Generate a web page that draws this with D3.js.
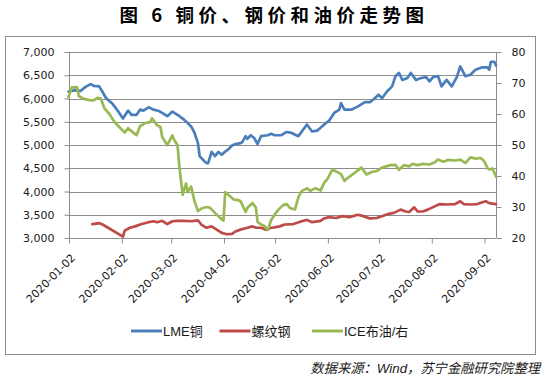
<!DOCTYPE html>
<html>
<head>
<meta charset="utf-8">
<script src="https://cdn.jsdelivr.net/npm/d3@7"></script>
<style>
  body { margin: 0; background: #fff; }
  svg { display: block; }
</style>
</head>
<body>
<div id="chart"></div>
<script>
// LME铜 (left axis)
const copperDates = ["2020-01-02","2020-01-06","2020-01-09","2020-01-12","2020-01-15","2020-01-17","2020-01-20","2020-01-22","2020-01-24","2020-01-28","2020-01-31",
  "2020-02-03","2020-02-06","2020-02-08","2020-02-11","2020-02-13","2020-02-15","2020-02-18","2020-02-21","2020-02-24","2020-02-26","2020-02-29",
  "2020-03-03","2020-03-06","2020-03-10","2020-03-12","2020-03-14","2020-03-16","2020-03-18","2020-03-19","2020-03-21","2020-03-23","2020-03-24","2020-03-26","2020-03-28","2020-03-30",
  "2020-04-01","2020-04-03","2020-04-05","2020-04-07","2020-04-09","2020-04-12","2020-04-13","2020-04-15","2020-04-16","2020-04-18","2020-04-20","2020-04-22","2020-04-24","2020-04-28","2020-04-30",
  "2020-05-02","2020-05-06","2020-05-09","2020-05-12","2020-05-16","2020-05-21","2020-05-24","2020-05-27","2020-05-29",
  "2020-06-01","2020-06-03","2020-06-06","2020-06-09","2020-06-10","2020-06-12","2020-06-16","2020-06-20","2020-06-24","2020-06-27","2020-06-30",
  "2020-07-02","2020-07-03","2020-07-04","2020-07-07","2020-07-10","2020-07-12","2020-07-14","2020-07-16","2020-07-19","2020-07-21","2020-07-24","2020-07-27","2020-07-30",
  "2020-08-01","2020-08-03","2020-08-06","2020-08-08","2020-08-11","2020-08-14","2020-08-17","2020-08-19","2020-08-22","2020-08-25","2020-08-28",
  "2020-09-01","2020-09-04","2020-09-05","2020-09-06","2020-09-08","2020-09-09"];
const copperValues = [6150,6180,6160,6250,6310,6270,6260,6140,6010,5880,5730,
  5570,5740,5650,5650,5760,5740,5810,5760,5730,5690,5620,
  5720,5650,5540,5470,5400,5260,5040,4760,4680,4610,4610,4850,4760,4850,
  4790,4860,4910,4990,5020,5040,5060,5190,5130,5210,5150,5020,5190,5210,5240,
  5210,5210,5280,5260,5190,5440,5290,5310,5370,
  5470,5520,5690,5760,5900,5760,5760,5830,5920,5920,6010,
  6080,6050,6000,6150,6260,6480,6550,6400,6440,6550,6400,6440,6460,
  6370,6460,6480,6260,6400,6260,6460,6690,6480,6510,6620,
  6670,6670,6620,6790,6790,6710];

// 螺纹钢 (left axis)
const rebarDates = ["2020-01-16","2020-01-20","2020-01-22",
  "2020-02-03","2020-02-04","2020-02-07","2020-02-10","2020-02-14","2020-02-18","2020-02-21","2020-02-23","2020-02-26","2020-02-29",
  "2020-03-03","2020-03-06","2020-03-10","2020-03-14","2020-03-18","2020-03-20","2020-03-23","2020-03-26","2020-03-29",
  "2020-04-01","2020-04-04","2020-04-07","2020-04-09","2020-04-12","2020-04-16","2020-04-19","2020-04-21","2020-04-24","2020-04-27","2020-04-30",
  "2020-05-02","2020-05-05","2020-05-08","2020-05-13","2020-05-18","2020-05-21","2020-05-24","2020-05-29","2020-05-31",
  "2020-06-03","2020-06-07","2020-06-11","2020-06-15","2020-06-20","2020-06-23","2020-06-27",
  "2020-07-01","2020-07-04","2020-07-08","2020-07-11","2020-07-15","2020-07-18","2020-07-20","2020-07-23","2020-07-25","2020-07-28","2020-07-31",
  "2020-08-04","2020-08-07","2020-08-11","2020-08-16","2020-08-19","2020-08-21","2020-08-25","2020-08-29",
  "2020-09-01","2020-09-03","2020-09-05","2020-09-09"];
const rebarValues = [3300,3320,3290,
  3030,3160,3220,3250,3300,3340,3360,3340,3370,3300,
  3360,3370,3370,3360,3380,3290,3220,3250,3180,
  3110,3080,3090,3140,3180,3220,3250,3220,3220,3180,3220,
  3230,3250,3290,3300,3360,3390,3340,3370,3420,
  3450,3430,3470,3450,3500,3470,3420,
  3430,3470,3520,3540,3610,3570,3560,3660,3570,3570,3610,
  3680,3730,3720,3730,3790,3730,3720,3730,
  3770,3790,3750,3730];

// ICE布油 (right axis)
const oilDates = ["2020-01-02","2020-01-04","2020-01-07","2020-01-08","2020-01-11","2020-01-15","2020-01-17","2020-01-19","2020-01-21","2020-01-23","2020-01-26","2020-01-29",
  "2020-02-04","2020-02-06","2020-02-09","2020-02-11","2020-02-13","2020-02-16","2020-02-19","2020-02-20","2020-02-23","2020-02-25","2020-02-26","2020-02-29",
  "2020-03-03","2020-03-04","2020-03-06","2020-03-07","2020-03-09","2020-03-11","2020-03-12","2020-03-14","2020-03-16","2020-03-18","2020-03-20","2020-03-23","2020-03-25","2020-03-28","2020-03-31",
  "2020-04-02","2020-04-03","2020-04-06","2020-04-08","2020-04-10","2020-04-12","2020-04-15","2020-04-16","2020-04-19","2020-04-21","2020-04-22","2020-04-24","2020-04-26","2020-04-28","2020-04-30",
  "2020-05-02","2020-05-04","2020-05-07","2020-05-09","2020-05-11","2020-05-14","2020-05-16","2020-05-18","2020-05-21","2020-05-23","2020-05-26","2020-05-29","2020-05-31",
  "2020-06-02","2020-06-05","2020-06-07","2020-06-10","2020-06-12","2020-06-14","2020-06-18","2020-06-22","2020-06-25","2020-06-28",
  "2020-07-01","2020-07-04","2020-07-09","2020-07-12","2020-07-14","2020-07-17","2020-07-20","2020-07-22","2020-07-25","2020-07-28",
  "2020-08-01","2020-08-04","2020-08-06","2020-08-09","2020-08-12","2020-08-16","2020-08-19","2020-08-22","2020-08-25","2020-08-28","2020-08-31",
  "2020-09-02","2020-09-04","2020-09-05","2020-09-07","2020-09-09"];
const oilValues = [65.6,68.6,68.7,65.8,64.9,64.4,64.5,65.2,65.0,61.9,60.0,57.4,
  54.0,55.4,54.0,53.2,56.1,57.1,57.4,58.6,56.4,55.8,52.6,50.0,
  53.1,51.7,49.9,43.6,33.9,37.6,34.8,36.6,31.8,28.7,29.5,30.0,29.8,28.1,26.5,
  25.6,34.8,33.4,32.4,32.3,31.9,28.4,29.7,31.3,29.8,25.2,24.4,23.9,22.6,25.8,
  27.5,29.0,30.6,31.0,29.7,29.2,33.2,35.2,36.0,35.2,36.1,35.3,37.7,
  39.0,42.1,41.5,40.6,38.4,39.4,41.0,42.7,40.5,41.3,
  41.6,42.7,43.5,43.6,42.0,43.5,43.1,43.9,43.5,43.9,
  43.7,44.4,45.3,44.6,45.2,45.0,45.3,44.2,46.0,45.6,45.8,
  44.8,42.6,42.1,42.4,39.8];

const xTickDates = ["2020-01-02","2020-02-02","2020-03-02","2020-04-02","2020-05-02","2020-06-02","2020-07-02","2020-08-02","2020-09-02"];
const leftTicks = [3000,3500,4000,4500,5000,5500,6000,6500,7000];
const rightTicks = [20,30,40,50,60,70,80];
const seriesNames = ["LME铜","螺纹钢","ICE布油/右"];

const title = "图 6 铜价、钢价和油价走势图";
const source = "数据来源：Wind，苏宁金融研究院整理";

const colors = ["#4a7ebb", "#be4b48", "#98b954"];
const gridColor = "#8c8c8c";

const width = 544, height = 379;
const plot = {left: 68.5, right: 496, top: 52, bottom: 238};

const parse = d3.timeParse("%Y-%m-%d");

const svg = d3.select("#chart").append("svg")
  .attr("width", width)
  .attr("height", height);

svg.append("rect")
  .attr("width", width).attr("height", height)
  .attr("fill", "#fff");

// title
svg.append("text")
  .attr("x", 274)
  .attr("y", 21.5)
  .attr("text-anchor", "middle")
  .style("font-family", "'Noto Sans CJK SC'")
  .style("font-weight", "bold")
  .style("font-size", "18.5px")
  .style("letter-spacing", "4.5px")
  .attr("fill", "#000")
  .text(title);

// chart frame
svg.append("rect")
  .attr("x", 5.5).attr("y", 36.5)
  .attr("width", 530).attr("height", 318)
  .attr("fill", "none")
  .attr("stroke", gridColor)
  .attr("stroke-width", 1);

// scales
const x = d3.scaleTime()
  .domain([parse("2020-01-02"), parse("2020-09-09")])
  .range([plot.left, plot.right]);
const yL = d3.scaleLinear().domain([3000, 7000]).range([plot.bottom, plot.top]);
const yR = d3.scaleLinear().domain([20, 80]).range([plot.bottom, plot.top]);

const crisp = v => Math.round(v) + 0.5;

// gridlines
svg.append("g").selectAll("line")
  .data(leftTicks)
  .enter().append("line")
  .attr("x1", plot.left).attr("x2", plot.right)
  .attr("y1", d => crisp(yL(d))).attr("y2", d => crisp(yL(d)))
  .attr("stroke", gridColor)
  .attr("stroke-width", 1);

function styleAxis(g) {
  g.selectAll("path, line").attr("stroke", gridColor).attr("stroke-width", 1);
  g.selectAll("text")
    .attr("fill", "#1a1a1a")
    .style("font-family", "'DejaVu Sans'")
    .style("font-size", "11px");
}

// left axis
svg.append("g")
  .attr("transform", "translate(" + crisp(plot.left) + ",0)")
  .call(d3.axisLeft(yL).tickValues(leftTicks).tickFormat(d3.format(",")).tickSize(5).tickSizeOuter(0).tickPadding(10))
  .call(styleAxis)
  .call(g => g.select(".domain").remove());

svg.append("line")
  .attr("x1", crisp(plot.left)).attr("x2", crisp(plot.left))
  .attr("y1", plot.top).attr("y2", plot.bottom)
  .attr("stroke", gridColor);

// right axis
svg.append("g")
  .attr("transform", "translate(" + crisp(plot.right) + ",0)")
  .call(d3.axisRight(yR).tickValues(rightTicks).tickSize(5).tickSizeOuter(0).tickPadding(10))
  .call(styleAxis)
  .call(g => g.select(".domain").remove());

svg.append("line")
  .attr("x1", crisp(plot.right)).attr("x2", crisp(plot.right))
  .attr("y1", plot.top).attr("y2", plot.bottom)
  .attr("stroke", gridColor);

// bottom axis
const xAxis = svg.append("g")
  .attr("transform", "translate(0," + crisp(plot.bottom) + ")")
  .call(d3.axisBottom(x)
    .tickValues(xTickDates.map(parse))
    .tickFormat(d3.timeFormat("%Y-%m-%d"))
    .tickSize(5)
    .tickSizeOuter(0))
  .call(styleAxis)
  .call(g => g.select(".domain").remove());

xAxis.selectAll(".tick line").attr("transform", "translate(0.5,0)");
xAxis.selectAll(".tick text")
  .attr("x", 0).attr("y", 0).attr("dy", 0)
  .attr("text-anchor", "end")
  .attr("transform", "translate(7,20) rotate(-45)");

svg.append("line")
  .attr("x1", plot.left).attr("x2", plot.right)
  .attr("y1", crisp(plot.bottom)).attr("y2", crisp(plot.bottom))
  .attr("stroke", gridColor);

// series
const series = [
  {dates: copperDates, values: copperValues, y: yL},
  {dates: rebarDates, values: rebarValues, y: yL},
  {dates: oilDates, values: oilValues, y: yR}
];

series.forEach((s, i) => {
  const pts = s.dates.map((d, j) => [parse(d), s.values[j]]);
  const line = d3.line()
    .x(d => x(d[0]))
    .y(d => s.y(d[1]));
  svg.append("path")
    .datum(pts)
    .attr("d", line)
    .attr("fill", "none")
    .attr("stroke", colors[i])
    .attr("stroke-width", 2.7)
    .attr("stroke-linejoin", "round")
    .attr("stroke-linecap", "round");
});

// legend
const legendX = [131, 219.5, 312];
const legend = svg.append("g").attr("transform", "translate(0,331)");
seriesNames.forEach((name, i) => {
  legend.append("line")
    .attr("x1", legendX[i]).attr("x2", legendX[i] + 31)
    .attr("y1", 0).attr("y2", 0)
    .attr("stroke", colors[i])
    .attr("stroke-width", 3);
  legend.append("text")
    .attr("x", legendX[i] + 32)
    .attr("y", 4.5)
    .style("font-family", "'Liberation Sans', 'Noto Sans CJK SC'")
    .style("font-size", "13px")
    .attr("fill", "#1a1a1a")
    .text(name);
});

// source note
svg.append("text")
  .attr("x", 540)
  .attr("y", 373)
  .attr("text-anchor", "end")
  .style("font-family", "'Liberation Sans', 'Noto Sans CJK SC'")
  .style("font-style", "italic")
  .style("font-size", "13.3px")
  .attr("fill", "#1a1a1a")
  .text(source);
</script>
</body>
</html>
